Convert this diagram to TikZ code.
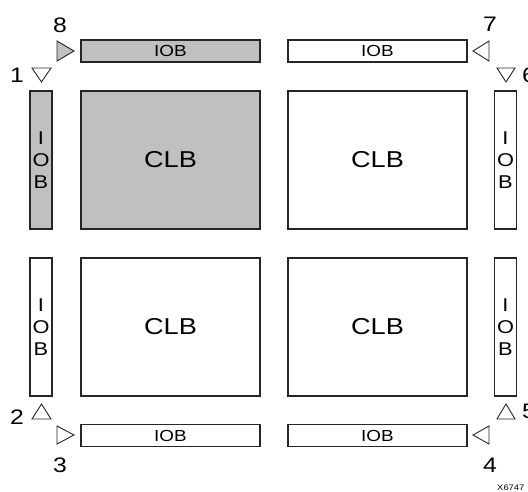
\documentclass[tikz,border=0pt]{standalone}
\usepackage{fontspec}
\setmainfont{Liberation Sans}[FakeStretch=1.18]
\definecolor{iobgrey}{HTML}{C0C0C0}
\begin{document}
\begin{tikzpicture}[x=1pt,y=-1pt,line join=miter,
    blk/.style={draw=black!85,line width=1.2pt,inner sep=0pt},
    clb/.style={blk,minimum width=179pt,minimum height=138pt,font=\fontsize{23}{23}\selectfont},
    hiob/.style={blk,minimum width=179pt,minimum height=22pt,font=\fontsize{16}{16}\selectfont},
    viob/.style={blk,minimum width=22pt,minimum height=138pt,align=center,font=\fontsize{18.5}{22}\selectfont},
    tri/.style={draw=black!85,line width=0.9pt},
    num/.style={inner sep=0pt,font=\fontsize{21}{21}\selectfont}]
\useasboundingbox (0,0) rectangle (528,491);
% CLBs
\node[clb,fill=iobgrey] (clblt) at (170.5,160) {CLB};
\node[clb] (clbrt) at (377.5,160) {CLB};
\node[clb] (clblb) at (170.5,327) {CLB};
\node[clb] (clbrb) at (377.5,327) {CLB};
% IOBs top and bottom
\node[hiob,fill=iobgrey] (ioblt) at (170.5,51) {IOB};
\node[hiob] (iobrt) at (377.5,51) {IOB};
\node[hiob] (ioblb) at (170.5,435.5) {IOB};
\node[hiob] (iobrb) at (377.5,435.5) {IOB};
% IOBs left and right
\node[viob,fill=iobgrey] (iobtl) at (41,160) {I\\O\\B};
\node[viob] (iobbl) at (41,327) {I\\O\\B};
\node[viob] (iobtr) at (505.5,160) {I\\O\\B};
\node[viob] (iobbr) at (505.5,327) {I\\O\\B};
% corner marks
\draw[tri,fill=iobgrey] (57,41) -- ++(0,20) -- ++(17,-10) -- cycle;
\draw[tri] (32,68) -- ++(19,0) -- ++(-9.5,14) -- cycle;
\draw[tri] (32,419) -- ++(19,0) -- ++(-9.5,-15) -- cycle;
\draw[tri] (57,426) -- ++(0,18) -- ++(17,-9) -- cycle;
\draw[tri] (489,426) -- ++(0,18) -- ++(-16,-9) -- cycle;
\draw[tri] (497,419) -- ++(18,0) -- ++(-9,-15) -- cycle;
\draw[tri] (497,68) -- ++(18,0) -- ++(-9,14) -- cycle;
\draw[tri] (489,41) -- ++(0,20) -- ++(-16,-10) -- cycle;
% numbers
\node[num] (n1) at (17,75) {1};
\node[num] (n2) at (17,417) {2};
\node[num] (n3) at (60,465) {3};
\node[num] (n4) at (490,465) {4};
\node[num,anchor=west] (n5) at (522,411) {5};
\node[num,anchor=west] (n6) at (522,75) {6};
\node[num] (n7) at (490,24) {7};
\node[num] (n8) at (60,25) {8};
\node[inner sep=0pt,anchor=west,font=\fontsize{8}{8}\selectfont] (fig) at (497,488) {X6747};
\end{tikzpicture}
\end{document}
